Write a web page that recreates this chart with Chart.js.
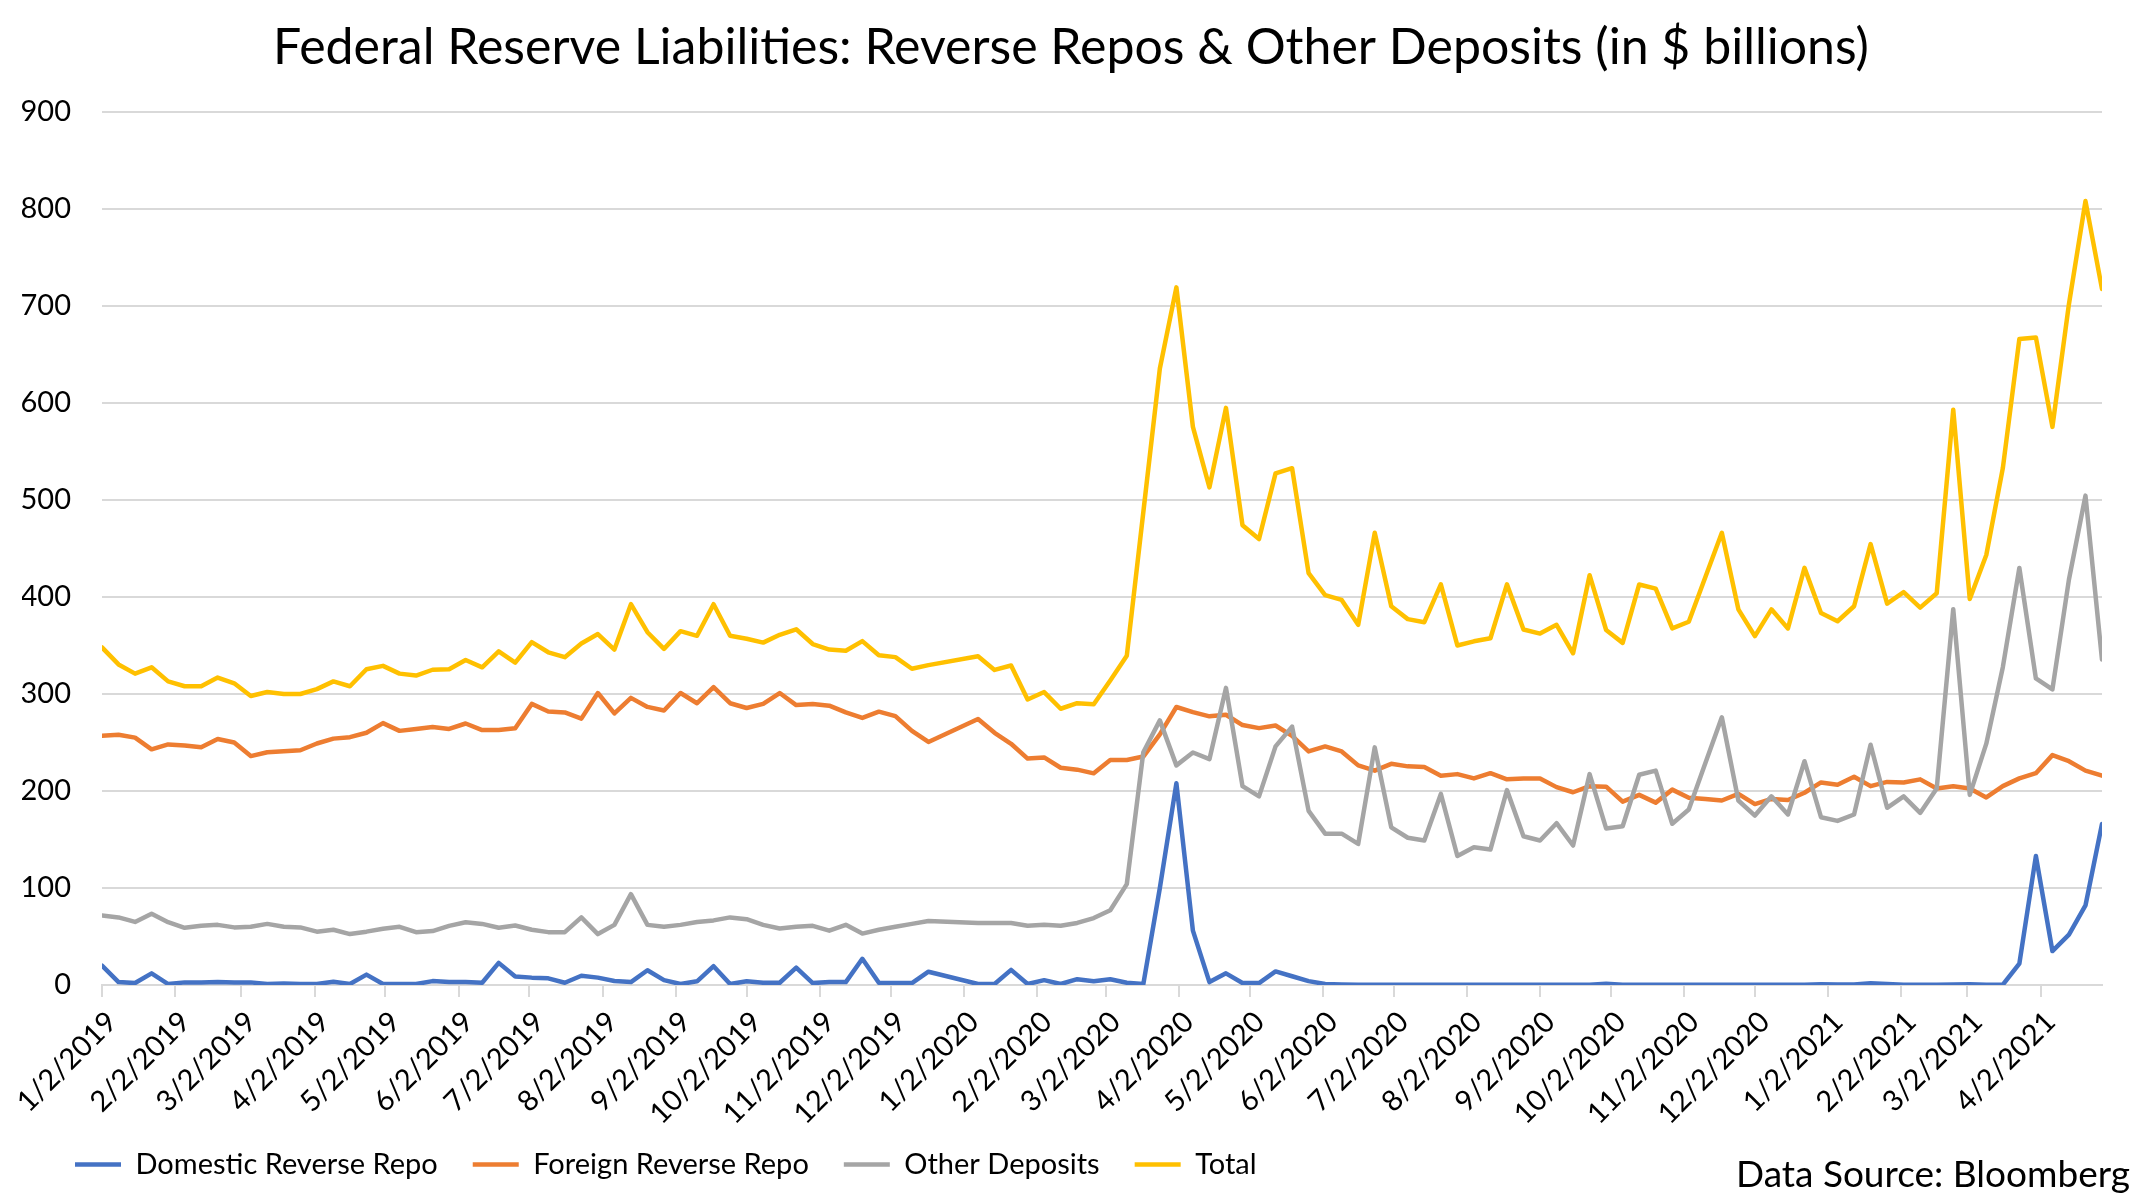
<!DOCTYPE html>
<html>
<head>
<meta charset="utf-8">
<script src="https://cdn.jsdelivr.net/npm/chart.js@4.4.1/dist/chart.umd.min.js"></script>
<style>
  html, body { margin: 0; padding: 0; background: #fff; }
  #wrap { width: 2136px; height: 1202px; }
</style>
</head>
<body>
<div id="wrap"><canvas id="chart"></canvas></div>
<script>
  // weekly (Wednesday) observations; 12/25/2019 and 1/1/2020 are missing
  const weeks = [
    '1/2/2019','1/9/2019','1/16/2019','1/23/2019','1/30/2019','2/6/2019','2/13/2019','2/20/2019','2/27/2019',
    '3/6/2019','3/13/2019','3/20/2019','3/27/2019','4/3/2019','4/10/2019','4/17/2019','4/24/2019',
    '5/1/2019','5/8/2019','5/15/2019','5/22/2019','5/29/2019','6/5/2019','6/12/2019','6/19/2019','6/26/2019',
    '7/3/2019','7/10/2019','7/17/2019','7/24/2019','7/31/2019','8/7/2019','8/14/2019','8/21/2019','8/28/2019',
    '9/4/2019','9/11/2019','9/18/2019','9/25/2019','10/2/2019','10/9/2019','10/16/2019','10/23/2019','10/30/2019',
    '11/6/2019','11/13/2019','11/20/2019','11/27/2019','12/4/2019','12/11/2019','12/18/2019',
    '1/8/2020','1/15/2020','1/22/2020','1/29/2020','2/5/2020','2/12/2020','2/19/2020','2/26/2020',
    '3/4/2020','3/11/2020','3/18/2020','3/25/2020','4/1/2020','4/8/2020','4/15/2020','4/22/2020','4/29/2020',
    '5/6/2020','5/13/2020','5/20/2020','5/27/2020','6/3/2020','6/10/2020','6/17/2020','6/24/2020',
    '7/1/2020','7/8/2020','7/15/2020','7/22/2020','7/29/2020','8/5/2020','8/12/2020','8/19/2020','8/26/2020',
    '9/2/2020','9/9/2020','9/16/2020','9/23/2020','9/30/2020','10/7/2020','10/14/2020','10/21/2020','10/28/2020',
    '11/4/2020','11/11/2020','11/18/2020','11/25/2020','12/2/2020','12/9/2020','12/16/2020','12/23/2020','12/30/2020',
    '1/6/2021','1/13/2021','1/20/2021','1/27/2021','2/3/2021','2/10/2021','2/17/2021','2/24/2021',
    '3/3/2021','3/10/2021','3/17/2021','3/24/2021','3/31/2021','4/7/2021','4/14/2021','4/21/2021','4/28/2021'
  ];

  const monthTicks = [
    '1/2/2019','2/2/2019','3/2/2019','4/2/2019','5/2/2019','6/2/2019','7/2/2019','8/2/2019','9/2/2019',
    '10/2/2019','11/2/2019','12/2/2019','1/2/2020','2/2/2020','3/2/2020','4/2/2020','5/2/2020','6/2/2020',
    '7/2/2020','8/2/2020','9/2/2020','10/2/2020','11/2/2020','12/2/2020','1/2/2021','2/2/2021','3/2/2021','4/2/2021'
  ];

  const domestic = [
    20, 3, 2, 12, 1, 2.7, 2.7, 3, 2.7, 2.7, 1, 1.5, 1, 1, 3.4, 1, 10.7, 1, 1, 1, 4, 3,
    3, 2.3, 22.8, 8.8, 7.6, 6.9, 2.3, 9.5, 7.6, 4.2, 3, 15.2, 5, 1, 3.8, 19.4, 1, 3.8, 2.3, 2.3,
    18, 2, 3, 3, 27, 2.3, 2, 2, 13.7,
    1, 1, 15.6, 1, 5, 1, 6, 3.8, 6, 2.3,
    1, 100, 208, 56, 3, 12, 2, 2, 14, 9, 4, 1, 0.5, 0.3,
    0.2, 0.2, 0.2, 0.2, 0.2, 0.2, 0.2, 0.2, 0.2, 0.2, 0.2, 0.2, 0.2, 0.2, 1.2,
    0.3, 0.3, 0.3, 0.3, 0.3, 0.3, 0.3, 0.3, 0.3, 0.3, 0.3, 0.3, 0.8, 0.5, 0.5,
    1.8, 1, 0.3, 0.3, 0.3, 0.5, 0.8, 0.3, 0.3, 22, 133, 35, 52, 82, 166
  ];

  const foreign = [
    257, 258, 255, 243, 248, 247, 245, 253.6, 250, 236, 240, 241, 242, 249, 254, 255.5, 260, 270, 262, 264, 266, 264,
    269.6, 262.8, 262.8, 264.7, 289.8, 282, 281, 274.6, 301, 280, 296, 286.7, 283, 301, 290.5, 307, 290.5, 285.6, 289.8, 301,
    288.6, 289.8, 288, 281, 275.3, 281.8, 277.2, 262, 250.6,
    274.2, 260, 248.7, 233.4, 234.6, 224, 222, 218.2, 232, 232,
    235.5, 258.4, 286.6, 281.3, 277, 278.6, 268, 264.8, 267.5, 256.8, 240.8, 246, 240.8, 226.4,
    221, 228, 225.4, 224.8, 215.8, 217.4, 213, 218.4, 212, 213, 213, 204, 198.7, 205, 204.5,
    189, 196, 188, 201.4, 193, 191.8, 190.2, 197, 186.5, 191.8, 190.7, 198.2, 208.8, 206.5, 214.7,
    205, 209.4, 208.8, 212, 202.5, 205, 202.5, 193.4, 205, 213, 218.4, 237, 230.7, 221, 215.8
  ];

  const otherDeposits = [
    71.6, 69.7, 65, 73.5, 64.7, 59, 61, 62, 59.4, 60, 63, 60, 59.4, 55, 57, 52.5, 55, 58, 60, 54.5, 55.6, 61,
    64.7, 63, 59, 61.3, 57, 54.5, 54.5, 69.7, 52.5, 62, 93.7, 62, 60, 62, 65, 66.6, 69.7, 67.8, 62, 58.3,
    60, 61, 56, 62, 53, 57, 60, 63, 66,
    64, 64, 64, 61, 62, 61, 64, 69, 77, 104,
    240, 272.8, 226.4, 239.7, 232.8, 306.3, 205, 194.5, 246, 266.4, 179.5, 156, 156, 145.4,
    245, 162.5, 151.8, 149, 197, 133, 142, 139.6, 200.9, 153.4, 149, 166.8, 143.8, 217.4, 161.4,
    163.6, 216.8, 221, 166.2, 181, 228.6, 276, 190.2, 174.7, 194.5, 175.8, 230.7, 173, 169.2, 175.8,
    247.7, 182.7, 194.5, 177.4, 202.5, 387.3, 196, 248.8, 327.6, 430, 316, 304.7, 418, 504.5, 335.6
  ];

  const total = [
    348, 330.5, 321, 327.5, 313, 308, 308, 317, 311, 298, 302, 300, 300, 305, 313, 308, 325.5, 329, 321, 319, 325, 325.5,
    335, 327.5, 344, 332.4, 353.4, 343, 338, 352, 361.8, 345.8, 392.6, 363.7, 346.5, 364.8, 360, 392.6, 360, 357, 353, 361,
    366.7, 351.5, 345.8, 344.6, 354.5, 340, 338, 326, 329.8,
    339, 324.8, 329.4, 294.4, 302, 284.8, 290.5, 289.4, 314, 339.4,
    487.5, 635.6, 719.2, 575.4, 513, 595, 474, 459.8, 527.4, 532.8, 424.6, 402, 397, 371.3,
    466.2, 390.5, 377.2, 374, 413, 350, 354.3, 357.5, 413, 366.5, 362.3, 371.3, 342, 422.5, 366,
    352.7, 412.9, 408.6, 367.6, 374.5, 420.3, 466.2, 387.3, 359.6, 387.3, 367.6, 430, 383.6, 375, 390.5,
    454.5, 393.2, 405, 389, 403.8, 593, 398, 443.3, 532.8, 666, 667.6, 575.4, 702, 808.2, 717.6
  ];

  const FONT = 'Lato';

  // days since the first observation
  function dayNum(s) {
    const [m, d, y] = s.split('/').map(Number);
    return (Date.UTC(y, m - 1, d) - Date.UTC(2019, 0, 2)) / 86400000;
  }

  function points(values) {
    return weeks.map((w, i) => ({ x: dayNum(w), y: values[i] }));
  }

  const lineStyle = {
    borderWidth: 4.5,
    pointRadius: 0,
    pointHoverRadius: 0,
    tension: 0,
    fill: false,
    borderJoinStyle: 'round',
    borderCapStyle: 'round'
  };

  // Excel-style slanted month labels, hung from the x scale's tick positions
  const monthLabels = {
    id: 'monthLabels',
    afterDraw(chart) {
      const xs = chart.scales.x;
      const ctx = chart.ctx;
      ctx.save();
      ctx.font = `29px ${FONT}`;
      ctx.fillStyle = '#000';
      ctx.textAlign = 'right';
      ctx.textBaseline = 'middle';
      monthTicks.forEach(t => {
        const px = xs.getPixelForValue(dayNum(t));
        ctx.save();
        ctx.translate(px + 10, xs.top + 32);
        ctx.rotate(-Math.PI / 4);
        ctx.fillText(t, 0, 0);
        ctx.restore();
      });
      ctx.restore();
    }
  };

  const sourceNote = {
    id: 'sourceNote',
    afterLayout(chart) {
      // legend a bit further right and higher, title a touch right
      chart.legend.left += 18;
      chart.legend.top -= 13;
      chart.titleBlock.left += 18;
    },
    afterDraw(chart) {
      const ctx = chart.ctx;
      ctx.save();
      ctx.font = `37px ${FONT}`;
      ctx.fillStyle = '#000';
      ctx.textAlign = 'right';
      ctx.textBaseline = 'alphabetic';
      ctx.fillText('Data Source: Bloomberg', 2130, 1187);
      ctx.restore();
    }
  };

  const ctx = document.getElementById('chart').getContext('2d');
  new Chart(ctx, {
    type: 'line',
    data: {
      datasets: [
        { label: 'Domestic Reverse Repo', data: points(domestic), borderColor: '#4472C4', backgroundColor: '#4472C4', order: 4, ...lineStyle },
        { label: 'Foreign Reverse Repo', data: points(foreign), borderColor: '#ED7D31', backgroundColor: '#ED7D31', order: 3, ...lineStyle },
        { label: 'Other Deposits', data: points(otherDeposits), borderColor: '#A5A5A5', backgroundColor: '#A5A5A5', order: 2, ...lineStyle },
        { label: 'Total', data: points(total), borderColor: '#FFC000', backgroundColor: '#FFC000', order: 1, ...lineStyle }
      ]
    },
    options: {
      responsive: true,
      maintainAspectRatio: false,
      devicePixelRatio: 1,
      animation: false,
      layout: { padding: { left: 22, right: 34, top: 0, bottom: 0 } },
      plugins: {
        title: {
          display: true,
          text: 'Federal Reserve Liabilities: Reverse Repos & Other Deposits (in $ billions)',
          color: '#000',
          font: { family: FONT, size: 50, weight: 'normal' },
          padding: { top: 18, bottom: 34 }
        },
        legend: {
          position: 'bottom',
          align: 'start',
          labels: {
            usePointStyle: true,
            pointStyle: 'line',
            pointStyleWidth: 46,
            color: '#000',
            font: { family: FONT, size: 29 },
            padding: 35,
            sort: (a, b) => a.datasetIndex - b.datasetIndex
          }
        },
        tooltip: { enabled: false }
      },
      scales: {
        x: {
          type: 'linear',
          min: 0,
          max: dayNum(weeks[weeks.length - 1]),
          afterBuildTicks: (axis) => {
            axis.ticks = monthTicks.map(t => ({ value: dayNum(t) }));
          },
          afterFit: (axis) => {
            // room for the slanted labels drawn by monthLabels
            axis.height = 143;
          },
          ticks: { display: false, autoSkip: false },
          grid: { drawOnChartArea: false, drawTicks: true, tickLength: 12, color: '#D9D9D9', lineWidth: 2 },
          border: { color: '#D9D9D9', width: 2 }
        },
        y: {
          min: 0,
          max: 900,
          afterFit: (axis) => {
            axis.width = 80;
          },
          ticks: {
            stepSize: 100,
            color: '#000',
            font: { family: FONT, size: 29 },
            padding: 31
          },
          grid: { color: '#D9D9D9', lineWidth: 2, drawTicks: false },
          border: { display: false }
        }
      }
    },
    plugins: [monthLabels, sourceNote]
  });
</script>
</body>
</html>
